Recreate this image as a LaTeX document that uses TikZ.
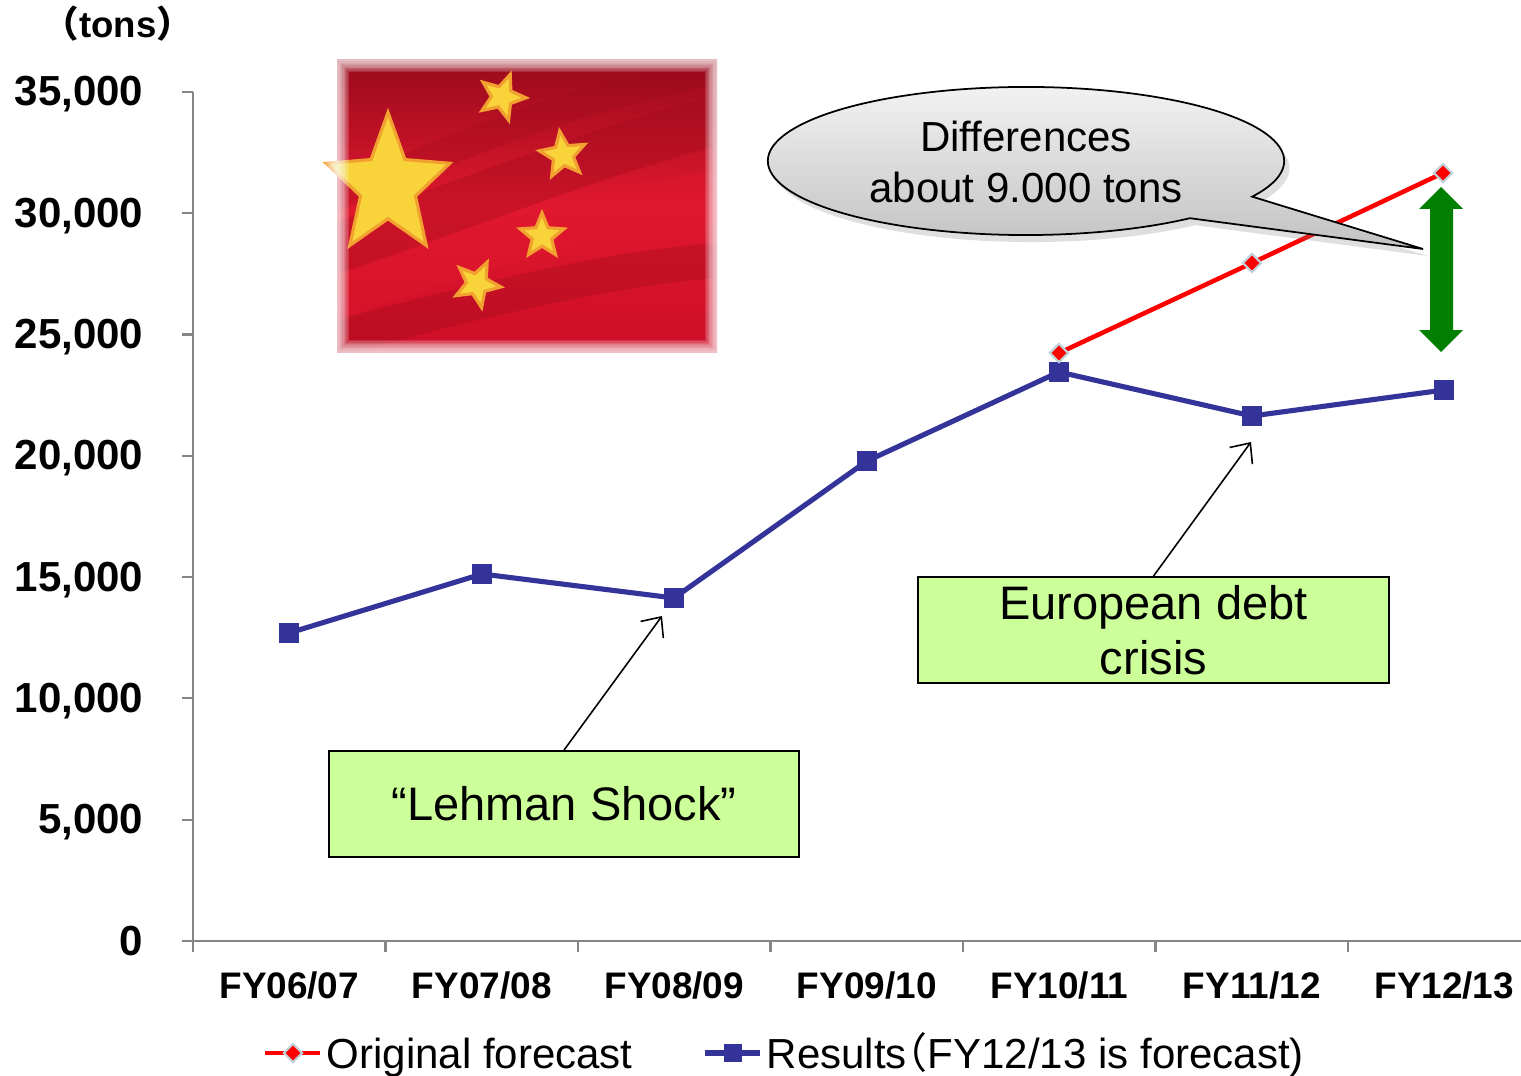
\documentclass[tikz,border=0pt]{standalone}
\usepackage{fontspec}
\setmainfont{Liberation Sans}
\newfontfamily\cjkfont{Noto Sans CJK SC}
\usetikzlibrary{shapes.geometric,arrows.meta,shadows,calc}
\definecolor{serblue}{HTML}{333399}
\definecolor{boxgreen}{HTML}{CCFF99}
\definecolor{axisgray}{HTML}{868686}
\definecolor{arrgreen}{HTML}{007F00}
\definecolor{flagred}{HTML}{CC0E26}
\definecolor{flagdark}{HTML}{9A0A1C}
\definecolor{flagbright}{HTML}{E0182E}
\definecolor{staryellow}{HTML}{F8D43A}
\definecolor{starorange}{HTML}{F2A030}
\begin{document}
\begin{tikzpicture}[x=0.01cm,y=-0.01cm,
  ylab/.style={anchor=base east, inner sep=0, font=\fontsize{11.95}{14}\selectfont\bfseries},
  xlab/.style={anchor=base, inner sep=0, font=\fontsize{10.5}{12}\selectfont\bfseries},
  leg/.style={anchor=base west, inner sep=0, font=\fontsize{11.95}{14}\selectfont},
  axisline/.style={draw=axisgray, line width=0.6pt},
  bluesq/.style={rectangle, fill=serblue, minimum size=0.2cm, inner sep=0},
  reddia/.style={diamond, fill=red, draw=cyan!30!gray!45, line width=0.6pt, minimum size=0.19cm, inner sep=0},
  blueline/.style={draw=serblue, line width=1.45pt, line join=round},
  redline/.style={draw=red, line width=1.3pt, line join=round},
  notebox/.style={draw=black, line width=0.5pt, fill=boxgreen, minimum width=4.7cm, minimum height=1.06cm, align=center, inner sep=0, font=\fontsize{13.37}{15.65}\selectfont},
  pointer/.style={draw=black, line width=0.45pt, -{Straight Barb[length=4.5pt,width=8pt]}},
  starnode/.style={star, star points=5, star point ratio=2.25, fill=staryellow, draw=starorange, line width=0.9pt, inner sep=0}
]
\useasboundingbox (0,0) rectangle (1521,1076);
\fill[white] (0,0) rectangle (1521,1076);

% ---------- flag ----------
\shade[top color=flagdark, bottom color=flagred, middle color=flagbright] (337,60) rectangle (717,352);
\begin{scope}
  \clip (337,60) rectangle (717,352);
  \draw[flagdark, line width=14pt, opacity=0.30] (330,250) .. controls (480,200) and (600,150) .. (720,120);
  \draw[flagbright, line width=12pt, opacity=0.35] (330,300) .. controls (480,250) and (600,210) .. (720,190);
  \draw[flagdark, line width=10pt, opacity=0.30] (330,340) .. controls (480,300) and (600,270) .. (720,260);
  \draw[flagdark, line width=8pt, opacity=0.25] (330,200) .. controls (450,150) and (560,100) .. (720,70);
\end{scope}
\begin{scope}[shift={(388,186)}, yscale=1.13]
  \node[starnode, transform shape, minimum size=1.30cm] (bigstar) at (0,0) {};
\end{scope}
\node[starnode, minimum size=0.48cm, rotate=-20] (star1) at (502,97) {};
\node[starnode, minimum size=0.48cm, rotate=8] (star2) at (563,155) {};
\node[starnode, minimum size=0.46cm, rotate=0] (star3) at (542,236) {};
\node[starnode, minimum size=0.48cm, rotate=-25] (star4) at (477,284) {};
% soft edge of the picture
\foreach \i in {1,...,9}
  \draw[white, opacity=0.14, line width=\i*0.75pt] (337,60) rectangle (717,352);

% ---------- axes ----------
\draw[axisline] (193,92) -- (193,941);
\draw[axisline] (182,941) -- (1521,941);
\foreach \k/\lab in {0/0,1/{5,000},2/{10,000},3/{15,000},4/{20,000},5/{25,000},6/{30,000},7/{35,000}}{
  \draw[axisline] (182,941-\k*121.29) -- (193,941-\k*121.29);
  \node[ylab] (ylab\k) at (144,955-\k*121.29) {\lab};
}
\foreach \k in {0,...,6}
  \draw[axisline] (193+\k*192.5,941) -- (193+\k*192.5,952);
\foreach \k/\lab in {0/FY06\slash 07,1/FY07\slash 08,2/FY08\slash 09,3/FY09\slash 10,4/FY10\slash 11,5/FY11\slash 12,6/FY12\slash 13}
  \node[xlab] (xlab\k) at (289.25+\k*192.5,998) {\lab};
\node[anchor=base, inner sep=0, font=\fontsize{10.4}{12}\selectfont\bfseries] (unit) at (118,38) {{\cjkfont （}tons{\cjkfont ）}};

% ---------- data ----------
\coordinate (r1) at (289,633);
\coordinate (r2) at (482,574);
\coordinate (r3) at (674,598);
\coordinate (r4) at (867,461);
\coordinate (r5) at (1059,372);
\coordinate (r6) at (1252,416);
\coordinate (r7) at (1444,390);
\coordinate (f5) at (1059,353);
\coordinate (f6) at (1252,263);
\coordinate (f7) at (1443,173);
\draw[redline] (f5) -- (f6) -- (f7);
\draw[blueline] (r1) -- (r2) -- (r3) -- (r4) -- (r5) -- (r6) -- (r7);
\foreach \p in {r1,r2,r3,r4,r5,r6,r7}
  \node[bluesq] (m\p) at (\p) {};
\foreach \p in {f5,f6,f7}
  \node[reddia] (m\p) at (\p) {};

% ---------- green double arrow ----------
\fill[arrgreen] (1441,187) -- (1463,209) -- (1453,209) -- (1453,330) -- (1463,330) -- (1441,352)
  -- (1419,330) -- (1430,330) -- (1430,209) -- (1419,209) -- cycle;

% ---------- callout ----------
\draw[black, line width=0.5pt, top color=black!4, bottom color=black!24,
      drop shadow={shadow xshift=1.5pt, shadow yshift=-2pt, opacity=0.25}]
  ($(1026,161)+(-28.8:2.58cm and 0.74cm)$)
  arc[start angle=-28.8, end angle=309.4, x radius=2.58cm, y radius=0.74cm]
  -- (1423,249) -- cycle;
\node[align=center, inner sep=0, font=\fontsize{11.95}{14.7}\selectfont] (difftxt) at (1026,162) {Differences\\about 9.000 tons};

% ---------- notes ----------
\node[notebox] (lehman) at (564,804) {“Lehman Shock”};
\node[notebox] (euro) at (1153.5,630) {European debt\\crisis};
\coordinate (pt1) at (662,616);
\coordinate (pt2) at (1251,442);
\draw[pointer] (lehman.north) -- (pt1);
\draw[pointer] (euro.north) -- (pt2);

% ---------- legend ----------
\draw[redline] (265,1053) -- (320,1053);
\node[reddia] (legr) at (293,1053) {};
\node[leg] (legrt) at (326,1068) {Original forecast};
\draw[blueline] (705,1053) -- (760,1053);
\node[bluesq, minimum size=0.18cm] (legb) at (733,1053) {};
\node[leg] (legbt) at (766,1068) {Results\hspace{-0.5em}{\cjkfont （}FY12/13 is forecast)};
\end{tikzpicture}
\end{document}
